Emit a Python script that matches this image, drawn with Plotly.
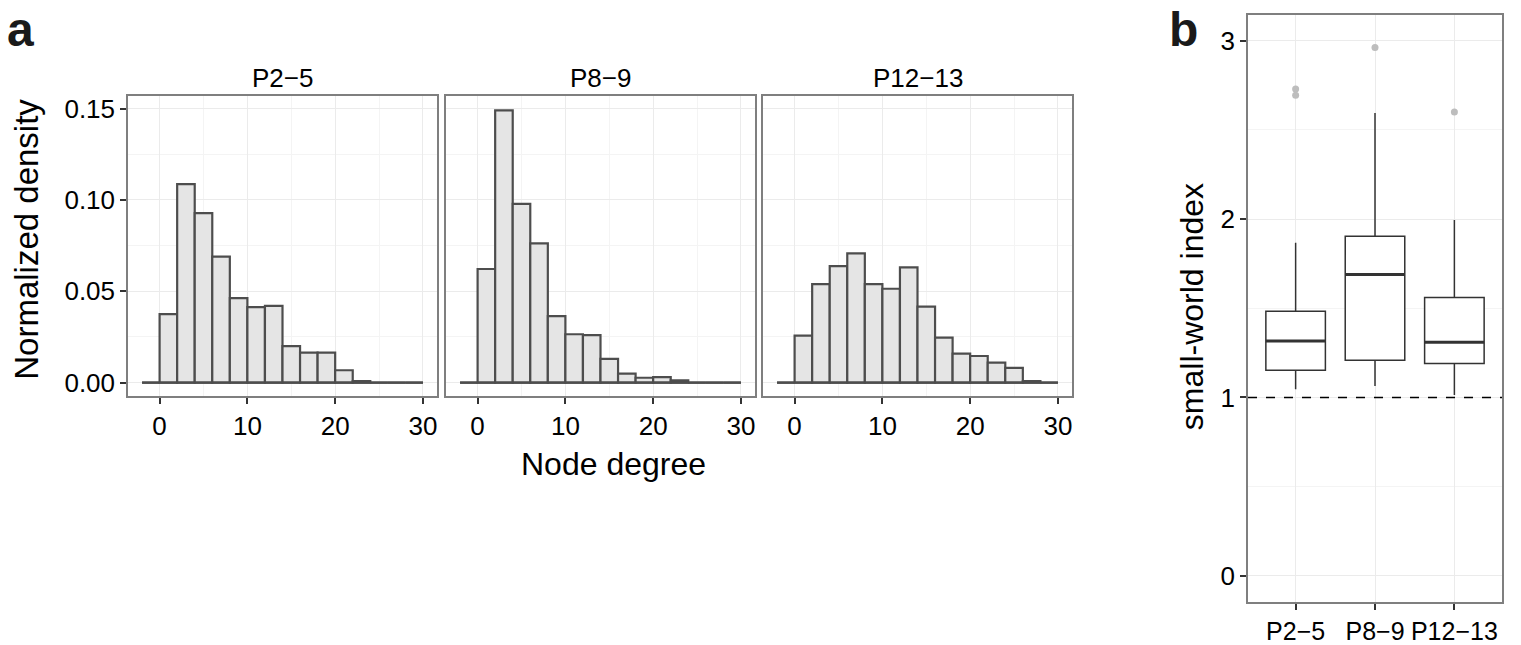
import plotly.graph_objects as go

# ---------------- data ----------------
bin_edges = [-2, 0, 2, 4, 6, 8, 10, 12, 14, 16, 18, 20, 22, 24, 26, 28, 30]
groups = ["P2\u22125", "P8\u22129", "P12\u221213"]
dens_p2_5 = [0, 0.0375, 0.1086, 0.0928, 0.0690, 0.0463, 0.0413, 0.0420,
             0.0200, 0.0164, 0.0164, 0.0068, 0.0009, 0, 0, 0]
dens_p8_9 = [0, 0.0622, 0.1490, 0.0978, 0.0762, 0.0364, 0.0265, 0.0260,
             0.0130, 0.0050, 0.0027, 0.0030, 0.0013, 0, 0, 0]
dens_p12_13 = [0, 0.0258, 0.0539, 0.0638, 0.0708, 0.0539, 0.0514, 0.0631,
               0.0416, 0.0247, 0.0159, 0.0146, 0.0110, 0.0081, 0.0009, 0]
densities = [dens_p2_5, dens_p8_9, dens_p12_13]
x_ticks = [0, 10, 20, 30]
y_ticks = [0, 0.05, 0.10, 0.15]

sw_lower = [1.046, 1.065, 1.014]
sw_q1 = [1.153, 1.209, 1.190]
sw_median = [1.317, 1.689, 1.309]
sw_q3 = [1.483, 1.903, 1.561]
sw_upper = [1.867, 2.594, 1.994]
out_group = ["P2\u22125", "P2\u22125", "P8\u22129", "P12\u221213"]
out_value = [2.728, 2.694, 2.961, 2.600]
sw_ticks = [0, 1, 2, 3]
sw_reference = 1

# ---------------- style ----------------
W, H = 1521, 645
FONT = "Liberation Sans, Arial, Helvetica, sans-serif"
BAR_FILL = "#e5e5e5"
BAR_LINE = "#4d4d4d"
BORDER = "#7f7f7f"
GRID = "#ebebeb"
GRID_MINOR = "#f4f4f4"
TICK_COL = "#333333"
BOX_W = 0.75


def px_x(p):
    return p / W


def px_y(p):
    return 1 - p / H


hist_dom_x = [(128, 437), (446, 755), (763, 1072)]
hist_dom_y = (95, 398)
box_dom_x = (1248, 1502)
box_dom_y = (13, 606)

fig = go.Figure()
centers = [(a + b) / 2 for a, b in zip(bin_edges[:-1], bin_edges[1:])]
widths = [b - a for a, b in zip(bin_edges[:-1], bin_edges[1:])]

for i, dens in enumerate(densities):
    ax = "" if i == 0 else str(i + 1)
    fig.add_trace(go.Bar(
        x=centers, y=dens, width=widths,
        marker=dict(color=BAR_FILL, line=dict(color=BAR_LINE, width=2.2)),
        xaxis="x" + ax, yaxis="y" + ax, hoverinfo="x+y",
    ))
    fig.add_trace(go.Scatter(
        x=[bin_edges[0], bin_edges[-1]], y=[0, 0], mode="lines",
        line=dict(color=BAR_LINE, width=2.2),
        xaxis="x" + ax, yaxis="y" + ax, hoverinfo="skip",
    ))

pos = list(range(1, len(groups) + 1))
fig.add_trace(go.Box(
    x=pos, q1=sw_q1, median=sw_median, q3=sw_q3,
    lowerfence=sw_lower, upperfence=sw_upper,
    width=BOX_W, whiskerwidth=0, boxpoints=False,
    fillcolor="white", line=dict(color="#333333", width=1.5),
    xaxis="x4", yaxis="y4",
))
# thicker median bars (ggplot style)
mx, my = [], []
for p, m in zip(pos, sw_median):
    mx += [p - BOX_W / 2, p + BOX_W / 2, None]
    my += [m, m, None]
fig.add_trace(go.Scatter(x=mx, y=my, mode="lines",
                         line=dict(color="#333333", width=3),
                         xaxis="x4", yaxis="y4", hoverinfo="skip"))
fig.add_trace(go.Scatter(
    x=[groups.index(g) + 1 for g in out_group], y=out_value, mode="markers",
    marker=dict(color="#bdbdbd", size=7),
    xaxis="x4", yaxis="y4",
))

tickfont = dict(family=FONT, size=26, color="black")
common = dict(showline=True, mirror=True, linecolor=BORDER, linewidth=1.5,
              showgrid=True, gridcolor=GRID, gridwidth=1, zeroline=False,
              ticks="outside", ticklen=6, tickwidth=1.5, tickcolor=TICK_COL,
              tickfont=tickfont)

layout = dict(
    width=W, height=H, margin=dict(l=0, r=0, t=0, b=0),
    paper_bgcolor="white", plot_bgcolor="white", showlegend=False,
    font=dict(family=FONT, color="black"),
)
for i in range(3):
    ax = "" if i == 0 else str(i + 1)
    x0, x1 = hist_dom_x[i]
    layout["xaxis" + ax] = dict(
        domain=[px_x(x0), px_x(x1)], range=[-3.6, 31.6],
        tickvals=x_ticks, anchor="y" + ax,
        minor=dict(dtick=5, tick0=0, showgrid=True, gridcolor=GRID_MINOR, ticks=""),
        **common)
    yd = dict(common)
    if i > 0:
        yd.update(showticklabels=False, ticks="", matches="y")
    layout["yaxis" + ax] = dict(
        domain=[px_y(hist_dom_y[1]), px_y(hist_dom_y[0])],
        range=[-0.00745, 0.1568], tickvals=y_ticks, tickformat=".2f",
        anchor="x" + ax,
        minor=dict(dtick=0.025, tick0=0, showgrid=True, gridcolor=GRID_MINOR, ticks=""),
        **yd)

box_x_common = dict(common)
box_x_common["tickfont"] = dict(family=FONT, size=25, color="black")
layout["xaxis4"] = dict(
    domain=[px_x(box_dom_x[0]), px_x(box_dom_x[1])], range=[0.4, 3.6],
    tickvals=pos, ticktext=groups, anchor="y4", **box_x_common)
layout["yaxis4"] = dict(
    domain=[px_y(box_dom_y[1]), px_y(box_dom_y[0])], range=[-0.148, 3.144],
    tickvals=sw_ticks, anchor="x4",
    minor=dict(dtick=0.5, tick0=0, showgrid=True, gridcolor=GRID_MINOR, ticks=""),
    **common)

fig.update_layout(**layout)

fig.add_shape(type="line", xref="x4 domain", yref="y4", x0=0, x1=1,
              y0=sw_reference, y1=sw_reference,
              line=dict(color="black", width=1.5, dash="dash"))

ann = []
strip_y = 77
for i, g in enumerate(groups):
    x0, x1 = hist_dom_x[i]
    ann.append(dict(text=g, x=px_x((x0 + x1) / 2), y=px_y(strip_y), xref="paper",
                    yref="paper", showarrow=False, xanchor="center", yanchor="middle",
                    font=dict(family=FONT, size=26, color="black")))
ann.append(dict(text="Node degree", x=px_x(613), y=px_y(466), xref="paper", yref="paper",
                showarrow=False, xanchor="center", yanchor="middle",
                font=dict(family=FONT, size=32, color="black")))
ann.append(dict(text="Normalized density", x=px_x(27), y=px_y(240), xref="paper",
                yref="paper", showarrow=False, xanchor="center", yanchor="middle",
                textangle=-90, font=dict(family=FONT, size=33, color="black")))
ann.append(dict(text="small-world index", x=px_x(1192), y=px_y(308), xref="paper",
                yref="paper", showarrow=False, xanchor="center", yanchor="middle",
                textangle=-90, font=dict(family=FONT, size=32, color="black")))
ann.append(dict(text="<b>a</b>", x=px_x(6), y=1, xref="paper", yref="paper",
                showarrow=False, xanchor="left", yanchor="top", borderpad=0,
                font=dict(family=FONT, size=48, color="#1a1a1a")))
ann.append(dict(text="<b>b</b>", x=px_x(1168), y=1, xref="paper", yref="paper",
                showarrow=False, xanchor="left", yanchor="top", borderpad=0,
                font=dict(family=FONT, size=48, color="#1a1a1a")))
fig.update_layout(annotations=ann)

fig.write_html("out.html", config={"displayModeBar": False},
               post_script="document.body.style.margin='0px';"
                           "document.body.style.overflow='hidden';")
